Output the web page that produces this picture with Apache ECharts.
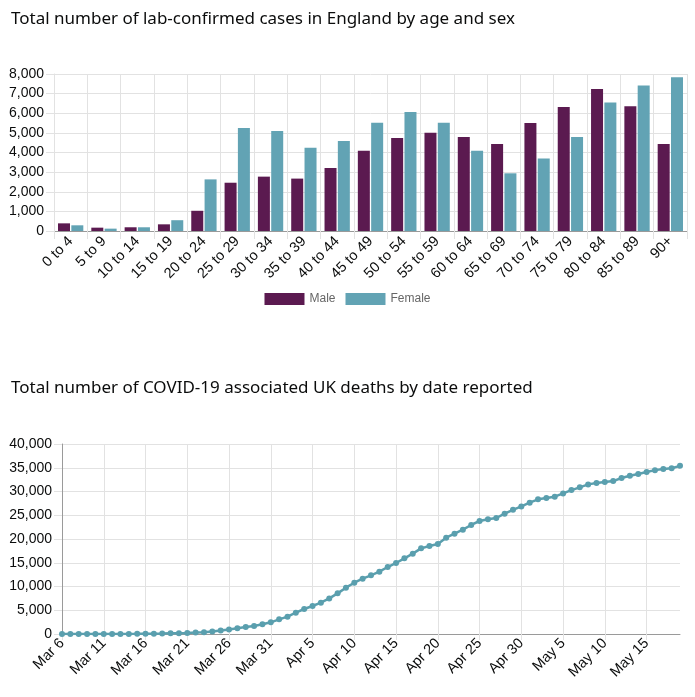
<!DOCTYPE html>
<html>
<head>
<meta charset="utf-8">
<script src="https://cdn.jsdelivr.net/npm/echarts@6/dist/echarts.min.js"></script>
<style>
html,body{margin:0;padding:0;background:#fff;}
#c{width:695px;height:697px;}
</style>
</head>
<body>
<div id="c"></div>
<script>
const ageGroups = ["0 to 4","5 to 9","10 to 14","15 to 19","20 to 24","25 to 29","30 to 34","35 to 39","40 to 44","45 to 49","50 to 54","55 to 59","60 to 64","65 to 69","70 to 74","75 to 79","80 to 84","85 to 89","90+"];
const maleCases = [390,170,190,340,1030,2460,2770,2670,3210,4090,4740,5010,4790,4430,5500,6320,7230,6360,4430];
const femaleCases = [290,120,190,550,2630,5250,5090,4240,4580,5520,6070,5520,4090,2940,3690,4790,6550,7420,7830];

const deathDates = ["Mar 6","Mar 7","Mar 8","Mar 9","Mar 10","Mar 11","Mar 12","Mar 13","Mar 14","Mar 15","Mar 16","Mar 17","Mar 18","Mar 19","Mar 20","Mar 21","Mar 22","Mar 23","Mar 24","Mar 25","Mar 26","Mar 27","Mar 28","Mar 29","Mar 30","Mar 31","Apr 1","Apr 2","Apr 3","Apr 4","Apr 5","Apr 6","Apr 7","Apr 8","Apr 9","Apr 10","Apr 11","Apr 12","Apr 13","Apr 14","Apr 15","Apr 16","Apr 17","Apr 18","Apr 19","Apr 20","Apr 21","Apr 22","Apr 23","Apr 24","Apr 25","Apr 26","Apr 27","Apr 28","Apr 29","Apr 30","May 1","May 2","May 3","May 4","May 5","May 6","May 7","May 8","May 9","May 10","May 11","May 12","May 13","May 14","May 15","May 16","May 17","May 18","May 19"];
const cumulativeDeaths = [2,2,3,4,6,8,8,10,21,35,55,71,104,144,177,233,290,370,520,720,950,1190,1460,1690,2040,2460,3090,3650,4480,5260,5890,6600,7500,8560,9750,10800,11650,12350,13120,14100,14950,15930,16910,18030,18530,18950,20280,21120,21960,22950,23790,24140,24420,25330,26150,26850,27650,28350,28630,28910,29600,30300,30880,31500,31790,32000,32200,32840,33330,33680,34100,34500,34740,34880,35400];

const titles = ["Total number of lab-confirmed cases in England by age and sex","Total number of COVID-19 associated UK deaths by date reported"];

const labelFont = "'Liberation Sans', Arial, sans-serif";
const textCol = '#0b0c0c';
const gridCol = '#e2e2e2';
const axisCol = '#9a9a9a';

const chart = echarts.init(document.getElementById('c'), null, {renderer:'canvas'});
chart.setOption({
  animation:false,
  backgroundColor:'#fff',
  title:[
    {text:titles[0], left:6, top:6, textStyle:{fontFamily:"'Noto Sans', sans-serif", fontWeight:'normal', fontSize:17, color:textCol}},
    {text:titles[1], left:6, top:375, textStyle:{fontFamily:"'Noto Sans', sans-serif", fontWeight:'normal', fontSize:17, color:textCol}}
  ],
  legend:{
    data:['Male','Female'], left:'center', top:288, itemWidth:40, itemHeight:12, itemGap:10,
    icon:'rect',
    textStyle:{fontFamily:labelFont, fontSize:12, color:'#666'}
  },
  grid:[
    {left:54, right:8, top:74, bottom:466, containLabel:false},
    {left:62, right:15, top:444, bottom:63, containLabel:false}
  ],
  xAxis:[
    {type:'category', gridIndex:0, data:ageGroups, boundaryGap:true,
     axisLine:{lineStyle:{color:axisCol}}, axisTick:{show:true, length:8, lineStyle:{color:gridCol}},
     splitLine:{show:true, lineStyle:{color:gridCol}},
     axisLabel:{rotate:45, fontFamily:labelFont, fontSize:14.5, color:textCol, margin:8, interval:0}},
    {type:'category', gridIndex:1, data:deathDates, boundaryGap:false,
     axisLine:{lineStyle:{color:axisCol}}, axisTick:{show:true, length:6, interval:4, lineStyle:{color:gridCol}},
     splitLine:{show:true, interval:4, lineStyle:{color:gridCol}},
     axisLabel:{rotate:45, fontFamily:labelFont, fontSize:14.5, color:textCol, margin:7, interval:4}}
  ],
  yAxis:[
    {type:'value', gridIndex:0, min:0, max:8000, interval:1000,
     axisLine:{show:true, lineStyle:{color:gridCol}}, axisTick:{show:true, length:8, lineStyle:{color:gridCol}},
     splitLine:{lineStyle:{color:gridCol}},
     axisLabel:{fontFamily:labelFont, fontSize:14, color:textCol, margin:10,
       formatter:v=>v.toLocaleString('en-GB')}},
    {type:'value', gridIndex:1, min:0, max:40000, interval:5000,
     axisLine:{show:true, lineStyle:{color:axisCol}}, axisTick:{show:true, length:8, lineStyle:{color:gridCol}},
     splitLine:{lineStyle:{color:gridCol}},
     axisLabel:{fontFamily:labelFont, fontSize:14, color:textCol, margin:10,
       formatter:v=>v.toLocaleString('en-GB')}}
  ],
  series:[
    {name:'Male', type:'bar', xAxisIndex:0, yAxisIndex:0, data:maleCases, barWidth:12, barGap:'11%', itemStyle:{color:'#5b1a50'}},
    {name:'Female', type:'bar', xAxisIndex:0, yAxisIndex:0, data:femaleCases, barWidth:12, barGap:'11%', itemStyle:{color:'#62a3b4'}},
    {name:'Deaths', type:'line', xAxisIndex:1, yAxisIndex:1, data:cumulativeDeaths,
     symbol:'circle', symbolSize:6, showSymbol:true, showAllSymbol:true,
     lineStyle:{color:'#5a9fae', width:2.5}, itemStyle:{color:'#5a9fae'}}
  ]
});
</script>
</body>
</html>
